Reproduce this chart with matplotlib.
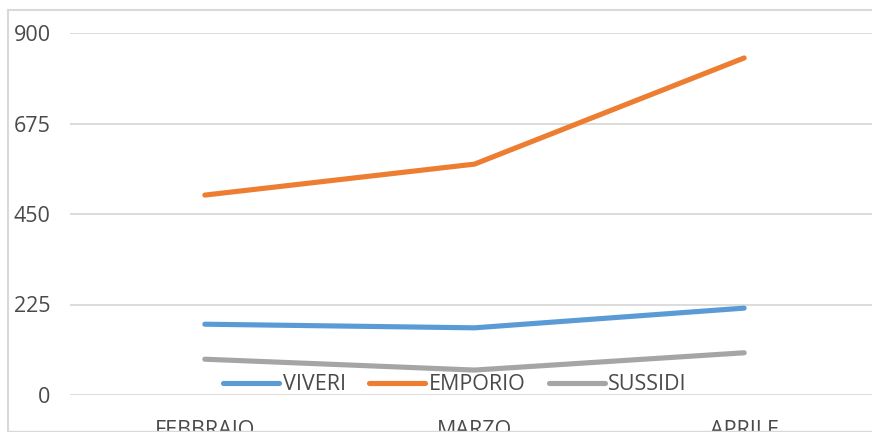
import matplotlib
matplotlib.use("Agg")
import matplotlib.pyplot as plt
from matplotlib.lines import Line2D

plt.rcParams['font.family'] = ['Open Sans', 'DejaVu Sans']

months = ["FEBBRAIO", "MARZO", "APRILE"]
viveri = [176, 167, 216]
emporio = [497, 574, 838]
sussidi = [89, 62, 105]
series_names = ["VIVERI", "EMPORIO", "SUSSIDI"]
colors = ["#5B9BD5", "#ED7D31", "#A5A5A5"]
yticks = [0, 225, 450, 675, 900]

W, H = 872, 432
fig = plt.figure(figsize=(W / 100, H / 100), dpi=100)

# chart frame (partially cropped at right/bottom)
frame_col = "#D9D9D9"
fig.add_artist(Line2D([8 / W, 8 / W], [0, 1 - 10 / H], transform=fig.transFigure, color=frame_col, lw=1.5))
fig.add_artist(Line2D([8 / W, 1], [1 - 10 / H, 1 - 10 / H], transform=fig.transFigure, color=frame_col, lw=1.5))
fig.add_artist(Line2D([8 / W, 1], [1.0 / H, 1.0 / H], transform=fig.transFigure, color=frame_col, lw=1.0))

left, right = 70, 879
bottom, top = 395, 33
ax = fig.add_axes([left / W, 1 - bottom / H, (right - left) / W, (bottom - top) / H])
ax.set_xlim(-0.5, 2.5)
ax.set_ylim(0, 900)
x = list(range(len(months)))
handles = []
for vals, name, c in zip([viveri, emporio, sussidi], series_names, colors):
    h, = ax.plot(x, vals, color=c, lw=3.7, solid_capstyle='round', solid_joinstyle='round', label=name, zorder=3)
    handles.append(h)

ax.set_yticks(yticks)
ax.set_xticks(x)
ax.set_xticklabels(months)
ax.grid(axis='y', color=frame_col, lw=1.3, zorder=0)
for s in ax.spines.values():
    s.set_visible(False)
ax.tick_params(axis='both', length=0, labelsize=15.5, colors="#4a4a4a")
ax.tick_params(axis='y', pad=14)
ax.tick_params(axis='x', pad=18)

leg = fig.legend(handles=handles, labels=series_names, loc='center', ncol=3,
                 bbox_to_anchor=(455 / W, 1 - 385 / H), frameon=False,
                 fontsize=15.5, handlelength=2.6, handletextpad=0.15, columnspacing=1.1,
                 labelcolor="#4a4a4a")

fig.savefig("out.png", dpi=100)
